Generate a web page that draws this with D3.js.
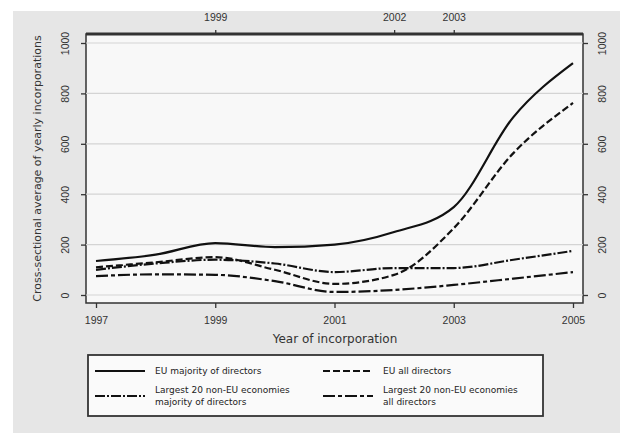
<!DOCTYPE html>
<html>
<head>
<meta charset="utf-8">
<script src="https://cdn.jsdelivr.net/npm/d3@7"></script>
<style>
  body { margin: 0; background: #fff; }
  svg { display: block; font-family: "DejaVu Sans", sans-serif; }
</style>
</head>
<body>
<div id="chart"></div>
<script>
  'use strict';

  var years = [1997, 1998, 1999, 2000, 2001, 2002, 2003, 2004, 2005];
  var euMajority = [135, 160, 206, 190, 200, 250, 349, 706, 920];
  var euAll = [110, 130, 150, 100, 44, 80, 265, 563, 762];
  var nonEuMajority = [100, 125, 140, 125, 91, 107, 107, 140, 175];
  var nonEuAll = [75, 82, 80, 55, 12, 20, 40, 65, 91];
  var seriesNames = [
    ['EU majority of directors'],
    ['EU all directors'],
    ['Largest 20 non-EU economies', 'majority of directors'],
    ['Largest 20 non-EU economies', 'all directors']
  ];
  var bottomTicks = [1997, 1999, 2001, 2003, 2005];
  var topTicks = [1999, 2002, 2003];
  var yTicks = [0, 200, 400, 600, 800, 1000];

  var series = [euMajority, euAll, nonEuMajority, nonEuAll];
  var dashes = [null, '7,3', '10,2,2,2', '12,3,4,3'];

  var width = 628;
  var height = 437;
  var plot = { left: 86, top: 34, right: 583, bottom: 303 };

  var svg = d3.select('#chart').append('svg')
    .attr('width', width).attr('height', height);

  svg.append('rect').attr('x', 13).attr('y', 11).attr('width', 607).attr('height', 422)
    .attr('fill', '#e6e6e6');

  svg.append('rect').attr('x', plot.left).attr('y', plot.top)
    .attr('width', plot.right - plot.left).attr('height', plot.bottom - plot.top)
    .attr('fill', '#f8f8f8').attr('stroke', '#333').attr('stroke-width', 1.5);
  svg.append('line').attr('x1', plot.left).attr('x2', plot.right)
    .attr('y1', plot.top).attr('y2', plot.top).attr('stroke', '#333').attr('stroke-width', 3);

  var x = d3.scaleLinear().domain([1997, 2005]).range([96, 573]);
  var y = d3.scaleLinear().domain([0, 1000]).range([295, 43]);

  // grid
  svg.append('g').selectAll('line').data(yTicks).join('line')
    .attr('x1', plot.left).attr('x2', plot.right)
    .attr('y1', function (d) { return y(d); }).attr('y2', function (d) { return y(d); })
    .attr('stroke', '#d4d4d4').attr('stroke-width', 1.2);

  function styleAxis(g) {
    g.select('.domain').remove();
    g.selectAll('.tick line').attr('stroke', '#333').attr('stroke-width', 1.3);
    g.selectAll('.tick text').attr('fill', '#333').attr('font-size', 10.5);
  }

  svg.append('g').attr('transform', 'translate(0,' + plot.bottom + ')')
    .call(d3.axisBottom(x).tickValues(bottomTicks).tickFormat(d3.format('d')).tickSize(5).tickPadding(9))
    .call(styleAxis);

  svg.append('g').attr('transform', 'translate(0,' + plot.top + ')')
    .call(d3.axisTop(x).tickValues(topTicks).tickFormat(d3.format('d')).tickSize(4).tickPadding(9))
    .call(styleAxis);

  var left = svg.append('g').attr('transform', 'translate(' + plot.left + ',0)')
    .call(d3.axisLeft(y).tickValues(yTicks).tickSize(5).tickFormat(d3.format('d')))
    .call(styleAxis);
  left.selectAll('.tick text').attr('x', null).attr('dy', null)
    .attr('transform', 'translate(-17,0) rotate(-90)').attr('text-anchor', 'middle');

  var right = svg.append('g').attr('transform', 'translate(' + plot.right + ',0)')
    .call(d3.axisRight(y).tickValues(yTicks).tickSize(5).tickFormat(d3.format('d')))
    .call(styleAxis);
  right.selectAll('.tick text').attr('x', null).attr('dy', null)
    .attr('transform', 'translate(23,0) rotate(-90)').attr('text-anchor', 'middle');

  svg.append('text').attr('transform', 'translate(41,' + ((plot.top + plot.bottom) / 2) + ') rotate(-90)')
    .attr('text-anchor', 'middle').attr('font-size', 11).attr('fill', '#333')
    .text('Cross-sectional average of yearly incorporations');

  svg.append('text').attr('x', 335).attr('y', 343).attr('text-anchor', 'middle')
    .attr('font-size', 12).attr('fill', '#333').text('Year of incorporation');

  var line = d3.line().x(function (d, i) { return x(years[i]); })
    .y(function (d) { return y(d); }).curve(d3.curveMonotoneX);

  svg.append('g').selectAll('path').data(series).join('path')
    .attr('d', line).attr('fill', 'none').attr('stroke', '#111').attr('stroke-width', 2.2)
    .attr('stroke-dasharray', function (d, i) { return dashes[i]; });

  // legend
  svg.append('rect').attr('x', 88).attr('y', 355).attr('width', 455).attr('height', 61)
    .attr('fill', '#fafafa').attr('stroke', '#333').attr('stroke-width', 1.8);

  var items = svg.append('g').selectAll('g').data(seriesNames).join('g')
    .attr('transform', function (d, i) {
      return 'translate(' + (i % 2 ? 323 : 95) + ',' + (i < 2 ? 371 : 396) + ')';
    });
  items.append('line').attr('x1', 0).attr('x2', 50).attr('stroke', '#111').attr('stroke-width', 2)
    .attr('stroke-dasharray', function (d, i) { return dashes[i]; });
  items.append('text').attr('x', 60).attr('font-size', 9).attr('fill', '#222')
    .selectAll('tspan').data(function (d) { return d; }).join('tspan')
    .attr('x', 60)
    .attr('y', function (d, i, nodes) { return (i - (nodes.length - 1) / 2) * 12; })
    .attr('dy', '0.35em')
    .text(function (d) { return d; });
</script>
</body>
</html>
